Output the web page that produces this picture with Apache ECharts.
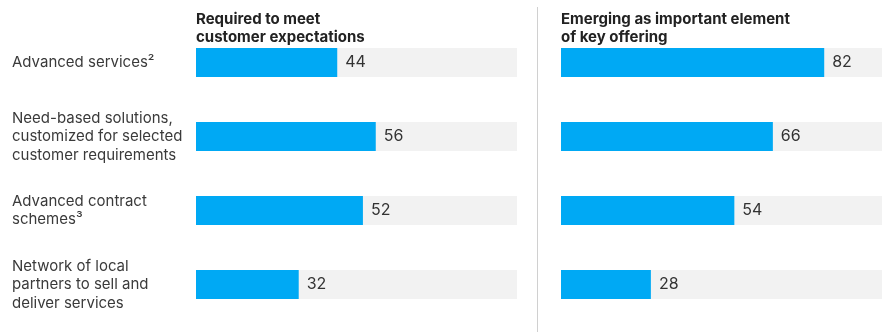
<!DOCTYPE html>
<html>
<head>
<meta charset="utf-8">
<script src="https://cdn.jsdelivr.net/npm/echarts@6/dist/echarts.min.js"></script>
<style>
  html, body { margin: 0; padding: 0; background: #fff; }
  #chart { width: 884px; height: 332px; }
</style>
</head>
<body>
<div id="chart"></div>
<script>
const categories = [
  'Advanced services\u00b2',
  'Need-based solutions,\ncustomized for selected\ncustomer requirements',
  'Advanced contract\nschemes\u00b3',
  'Network of local\npartners to sell and\ndeliver services'
]
const panelTitles = [
  'Required to meet\ncustomer expectations',
  'Emerging as important element\nof key offering'
]
const requiredValues = [44, 56, 52, 32]
const emergingValues = [82, 66, 54, 28]

const fontFamily = 'Inter, "Noto Sans", sans-serif'
const blue = '#00a9f4'

function barSeries(idx, data) {
  return {
    type: 'bar',
    xAxisIndex: idx,
    yAxisIndex: idx,
    data: data,
    barWidth: 29,
    itemStyle: { color: blue },
    showBackground: true,
    backgroundStyle: { color: '#f2f2f2' },
    label: {
      show: true,
      position: 'right',
      distance: 8,
      color: '#333',
      fontSize: 16,
      fontFamily: fontFamily
    },
    animation: false
  }
}

const chart = echarts.init(document.getElementById('chart'))
chart.setOption({
  textStyle: { fontFamily: fontFamily },
  title: [
    {
      text: panelTitles[0],
      left: 196,
      top: 10,
      padding: 0,
      textStyle: { fontSize: 15, fontWeight: 'bold', color: '#222', lineHeight: 18, fontFamily: fontFamily }
    },
    {
      text: panelTitles[1],
      left: 561,
      top: 10,
      padding: 0,
      textStyle: { fontSize: 15, fontWeight: 'bold', color: '#222', lineHeight: 18, fontFamily: fontFamily }
    }
  ],
  grid: [
    { left: 196, width: 321, top: 25.5, height: 296 },
    { left: 561, width: 321, top: 25.5, height: 296 }
  ],
  xAxis: [
    { gridIndex: 0, type: 'value', min: 0, max: 100, show: false },
    { gridIndex: 1, type: 'value', min: 0, max: 100, show: false }
  ],
  yAxis: [
    {
      gridIndex: 0,
      type: 'category',
      inverse: true,
      data: categories,
      axisLine: { show: false },
      axisTick: { show: false },
      axisLabel: {
        align: 'left',
        margin: 184,
        color: '#3a3a3a',
        fontSize: 15,
        lineHeight: 18.5,
        fontFamily: fontFamily
      }
    },
    {
      gridIndex: 1,
      type: 'category',
      inverse: true,
      data: categories,
      show: false
    }
  ],
  graphic: [
    {
      type: 'line',
      shape: { x1: 537.5, y1: 7, x2: 537.5, y2: 332 },
      style: { stroke: '#d0d0d0', lineWidth: 1 }
    }
  ],
  series: [
    barSeries(0, requiredValues),
    barSeries(1, emergingValues)
  ]
})
</script>
</body>
</html>
